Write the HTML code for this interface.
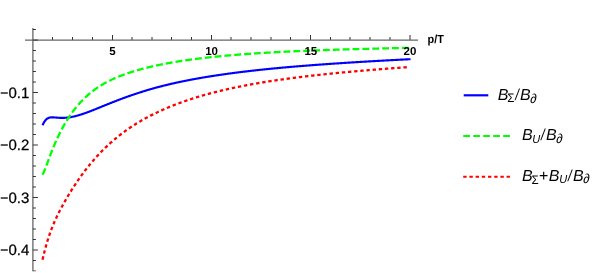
<!DOCTYPE html>
<html><head><meta charset="utf-8"><title>plot</title>
<style>
html,body{margin:0;padding:0;background:#fff;}
svg{display:block;font-family:"Liberation Sans",sans-serif;fill:#000;text-rendering:geometricPrecision;will-change:transform;}
</style></head>
<body>
<svg width="600" height="273" viewBox="0 0 600 273">
<rect x="0" y="0" width="600" height="273" fill="#ffffff"/>
<line x1="25" y1="40.05" x2="418" y2="40.05" stroke="#666666" stroke-width="1.3"/>
<line x1="32.9" y1="28" x2="32.9" y2="271.3" stroke="#666666" stroke-width="1.3"/>
<path d="M52.50,39.9v-2.9 M72.50,39.9v-2.9 M92.50,39.9v-2.9 M112.50,39.9v-4.9 M132.00,39.9v-2.9 M152.00,39.9v-2.9 M171.50,39.9v-2.9 M191.50,39.9v-2.9 M211.50,39.9v-4.9 M231.00,39.9v-2.9 M251.00,39.9v-2.9 M271.00,39.9v-2.9 M290.50,39.9v-2.9 M310.50,39.9v-4.9 M330.50,39.9v-2.9 M350.00,39.9v-2.9 M370.00,39.9v-2.9 M390.00,39.9v-2.9 M410.00,39.9v-4.9 M32.9,260.50h3 M32.9,250.00h5 M32.9,239.50h3 M32.9,229.00h3 M32.9,218.50h3 M32.9,208.00h3 M32.9,197.50h5 M32.9,187.00h3 M32.9,176.50h3 M32.9,166.00h3 M32.9,155.50h3 M32.9,145.00h5 M32.9,134.50h3 M32.9,124.00h3 M32.9,113.50h3 M32.9,103.00h3 M32.9,92.50h5 M32.9,82.00h3 M32.9,71.50h3 M32.9,61.00h3 M32.9,50.50h3 M32.9,40.05h5 M32.9,29.50h3" stroke="#333333" stroke-width="1" fill="none"/>
<path d="M32.9,270.8h3" stroke="#666666" stroke-width="1" fill="none"/>
<path d="M42.50,125.25 L43.00,124.21 L43.50,123.25 L44.00,122.37 L44.50,121.56 L45.00,120.84 L45.50,120.21 L46.00,119.65 L46.50,119.17 L47.00,118.77 L47.50,118.44 L48.00,118.17 L48.50,117.95 L49.00,117.78 L49.50,117.64 L50.00,117.54 L50.50,117.47 L51.00,117.42 L51.50,117.39 L52.00,117.37 L52.50,117.37 L53.00,117.38 L53.50,117.40 L54.00,117.42 L54.50,117.45 L55.00,117.49 L55.50,117.53 L56.00,117.57 L56.50,117.61 L57.00,117.65 L57.50,117.69 L58.00,117.73 L58.50,117.77 L59.00,117.80 L59.50,117.83 L60.00,117.86 L60.50,117.88 L61.00,117.89 L61.50,117.90 L62.00,117.90 L62.50,117.90 L63.00,117.89 L63.50,117.88 L64.00,117.86 L64.50,117.83 L65.00,117.80 L65.50,117.77 L66.00,117.73 L66.50,117.69 L67.00,117.64 L67.50,117.58 L68.00,117.52 L68.50,117.46 L69.00,117.39 L69.50,117.32 L70.00,117.24 L70.50,117.16 L71.00,117.07 L71.50,116.98 L72.00,116.88 L72.50,116.78 L73.00,116.68 L73.50,116.57 L74.00,116.45 L74.50,116.34 L75.00,116.22 L75.50,116.09 L76.00,115.97 L76.50,115.83 L77.00,115.70 L77.50,115.56 L78.00,115.42 L78.50,115.28 L79.00,115.13 L79.50,114.98 L80.00,114.83 L80.50,114.67 L81.00,114.52 L81.50,114.36 L82.00,114.19 L82.50,114.03 L83.00,113.86 L83.50,113.69 L84.00,113.52 L84.50,113.35 L85.00,113.18 L85.50,113.00 L86.00,112.82 L86.50,112.64 L87.00,112.46 L87.50,112.28 L88.00,112.09 L88.50,111.91 L89.00,111.72 L89.50,111.53 L90.00,111.34 L90.50,111.15 L91.00,110.96 L91.50,110.76 L92.00,110.57 L92.50,110.37 L93.00,110.17 L93.50,109.97 L94.00,109.78 L94.50,109.58 L95.00,109.37 L95.50,109.17 L96.00,108.97 L96.50,108.77 L97.00,108.56 L97.50,108.36 L98.00,108.16 L98.50,107.95 L99.00,107.75 L99.50,107.54 L100.00,107.33 L100.50,107.13 L101.00,106.92 L101.50,106.72 L102.00,106.51 L102.50,106.31 L103.00,106.10 L103.50,105.90 L104.00,105.70 L104.50,105.49 L105.00,105.29 L105.50,105.09 L106.00,104.89 L106.50,104.68 L107.00,104.48 L107.50,104.28 L108.00,104.08 L108.50,103.88 L109.00,103.68 L109.50,103.49 L110.00,103.29 L110.50,103.09 L111.00,102.89 L111.50,102.70 L112.00,102.50 L112.50,102.30 L113.00,102.11 L113.50,101.91 L114.00,101.72 L114.50,101.52 L115.00,101.33 L115.50,101.14 L116.00,100.94 L116.50,100.75 L117.00,100.56 L117.50,100.37 L118.00,100.18 L118.50,99.98 L119.00,99.79 L119.50,99.60 L120.00,99.41 L120.50,99.22 L121.00,99.04 L121.50,98.85 L122.00,98.66 L122.50,98.48 L123.00,98.29 L123.50,98.11 L124.00,97.92 L124.50,97.74 L125.00,97.56 L125.50,97.38 L126.00,97.20 L126.50,97.02 L127.00,96.84 L127.50,96.66 L128.00,96.49 L128.50,96.31 L129.00,96.14 L129.50,95.96 L130.00,95.79 L130.50,95.62 L131.00,95.44 L131.50,95.27 L132.00,95.10 L132.50,94.93 L133.00,94.76 L133.50,94.59 L134.00,94.42 L134.50,94.25 L135.00,94.08 L135.50,93.92 L136.00,93.75 L136.50,93.58 L137.00,93.42 L137.50,93.25 L138.00,93.09 L138.50,92.92 L139.00,92.76 L139.50,92.60 L140.00,92.43 L140.50,92.27 L141.00,92.11 L141.50,91.95 L142.00,91.79 L142.50,91.63 L143.00,91.47 L143.50,91.31 L144.00,91.16 L144.50,91.00 L145.00,90.85 L145.50,90.69 L146.00,90.54 L146.50,90.39 L147.00,90.24 L147.50,90.09 L148.00,89.94 L148.50,89.79 L149.00,89.64 L149.50,89.50 L150.00,89.35 L150.50,89.21 L151.00,89.06 L151.50,88.92 L152.00,88.78 L152.50,88.63 L153.00,88.49 L153.50,88.35 L154.00,88.21 L154.50,88.07 L155.00,87.94 L155.50,87.80 L156.00,87.66 L156.50,87.53 L157.00,87.39 L157.50,87.26 L158.00,87.13 L158.50,86.99 L159.00,86.86 L159.50,86.73 L160.00,86.60 L160.50,86.47 L161.00,86.34 L161.50,86.21 L162.00,86.09 L162.50,85.96 L163.00,85.83 L163.50,85.71 L164.00,85.58 L164.50,85.46 L165.00,85.34 L165.50,85.21 L166.00,85.09 L166.50,84.97 L167.00,84.85 L167.50,84.73 L168.00,84.61 L168.50,84.49 L169.00,84.37 L169.50,84.25 L170.00,84.14 L170.50,84.02 L171.00,83.90 L171.50,83.79 L172.00,83.67 L172.50,83.56 L173.00,83.45 L173.50,83.33 L174.00,83.22 L174.50,83.11 L175.00,83.00 L175.50,82.89 L176.00,82.78 L176.50,82.67 L177.00,82.56 L177.50,82.45 L178.00,82.34 L178.50,82.23 L179.00,82.13 L179.50,82.02 L180.00,81.91 L180.50,81.81 L181.00,81.70 L181.50,81.60 L182.00,81.50 L182.50,81.39 L183.00,81.29 L183.50,81.19 L184.00,81.09 L184.50,80.99 L185.00,80.88 L185.50,80.78 L186.00,80.68 L186.50,80.59 L187.00,80.49 L187.50,80.39 L188.00,80.29 L188.50,80.19 L189.00,80.10 L189.50,80.00 L190.00,79.90 L190.50,79.81 L191.00,79.71 L191.50,79.62 L192.00,79.52 L192.50,79.43 L193.00,79.34 L193.50,79.24 L194.00,79.15 L194.50,79.06 L195.00,78.97 L195.50,78.88 L196.00,78.79 L196.50,78.70 L197.00,78.61 L197.50,78.52 L198.00,78.43 L198.50,78.34 L199.00,78.25 L199.50,78.16 L200.00,78.07 L200.50,77.99 L201.00,77.90 L201.50,77.81 L202.00,77.73 L202.50,77.64 L203.00,77.56 L203.50,77.47 L204.00,77.39 L204.50,77.31 L205.00,77.22 L205.50,77.14 L206.00,77.06 L206.50,76.97 L207.00,76.89 L207.50,76.81 L208.00,76.73 L208.50,76.65 L209.00,76.57 L209.50,76.48 L210.00,76.40 L210.50,76.32 L211.00,76.25 L211.50,76.17 L212.00,76.09 L212.50,76.01 L213.00,75.93 L213.50,75.85 L214.00,75.78 L214.50,75.70 L215.00,75.62 L215.50,75.55 L216.00,75.47 L216.50,75.39 L217.00,75.32 L217.50,75.24 L218.00,75.17 L218.50,75.09 L219.00,75.02 L219.50,74.95 L220.00,74.87 L220.50,74.80 L221.00,74.73 L221.50,74.65 L222.00,74.58 L222.50,74.51 L223.00,74.44 L223.50,74.37 L224.00,74.30 L224.50,74.22 L225.00,74.15 L225.50,74.08 L226.00,74.01 L226.50,73.94 L227.00,73.88 L227.50,73.81 L228.00,73.74 L228.50,73.67 L229.00,73.60 L229.50,73.53 L230.00,73.46 L230.50,73.40 L231.00,73.33 L231.50,73.26 L232.00,73.20 L232.50,73.13 L233.00,73.06 L233.50,73.00 L234.00,72.93 L234.50,72.87 L235.00,72.80 L235.50,72.74 L236.00,72.67 L236.50,72.61 L237.00,72.55 L237.50,72.48 L238.00,72.42 L238.50,72.35 L239.00,72.29 L239.50,72.23 L240.00,72.17 L240.50,72.10 L241.00,72.04 L241.50,71.98 L242.00,71.92 L242.50,71.86 L243.00,71.80 L243.50,71.74 L244.00,71.68 L244.50,71.62 L245.00,71.56 L245.50,71.50 L246.00,71.44 L246.50,71.38 L247.00,71.32 L247.50,71.26 L248.00,71.20 L248.50,71.14 L249.00,71.08 L249.50,71.03 L250.00,70.97 L250.50,70.91 L251.00,70.85 L251.50,70.80 L252.00,70.74 L252.50,70.68 L253.00,70.63 L253.50,70.57 L254.00,70.51 L254.50,70.46 L255.00,70.40 L255.50,70.35 L256.00,70.29 L256.50,70.24 L257.00,70.18 L257.50,70.13 L258.00,70.07 L258.50,70.02 L259.00,69.96 L259.50,69.91 L260.00,69.86 L260.50,69.80 L261.00,69.75 L261.50,69.70 L262.00,69.65 L262.50,69.59 L263.00,69.54 L263.50,69.49 L264.00,69.44 L264.50,69.39 L265.00,69.33 L265.50,69.28 L266.00,69.23 L266.50,69.18 L267.00,69.13 L267.50,69.08 L268.00,69.03 L268.50,68.98 L269.00,68.93 L269.50,68.88 L270.00,68.83 L270.50,68.78 L271.00,68.73 L271.50,68.68 L272.00,68.63 L272.50,68.58 L273.00,68.53 L273.50,68.49 L274.00,68.44 L274.50,68.39 L275.00,68.34 L275.50,68.29 L276.00,68.25 L276.50,68.20 L277.00,68.15 L277.50,68.10 L278.00,68.06 L278.50,68.01 L279.00,67.96 L279.50,67.92 L280.00,67.87 L280.50,67.82 L281.00,67.78 L281.50,67.73 L282.00,67.69 L282.50,67.64 L283.00,67.60 L283.50,67.55 L284.00,67.50 L284.50,67.46 L285.00,67.41 L285.50,67.37 L286.00,67.33 L286.50,67.28 L287.00,67.24 L287.50,67.19 L288.00,67.15 L288.50,67.11 L289.00,67.06 L289.50,67.02 L290.00,66.97 L290.50,66.93 L291.00,66.89 L291.50,66.85 L292.00,66.80 L292.50,66.76 L293.00,66.72 L293.50,66.68 L294.00,66.63 L294.50,66.59 L295.00,66.55 L295.50,66.51 L296.00,66.47 L296.50,66.42 L297.00,66.38 L297.50,66.34 L298.00,66.30 L298.50,66.26 L299.00,66.22 L299.50,66.18 L300.00,66.14 L300.50,66.10 L301.00,66.06 L301.50,66.01 L302.00,65.97 L302.50,65.93 L303.00,65.89 L303.50,65.85 L304.00,65.81 L304.50,65.78 L305.00,65.74 L305.50,65.70 L306.00,65.66 L306.50,65.62 L307.00,65.58 L307.50,65.54 L308.00,65.50 L308.50,65.46 L309.00,65.42 L309.50,65.38 L310.00,65.35 L310.50,65.31 L311.00,65.27 L311.50,65.23 L312.00,65.19 L312.50,65.16 L313.00,65.12 L313.50,65.08 L314.00,65.04 L314.50,65.01 L315.00,64.97 L315.50,64.93 L316.00,64.89 L316.50,64.86 L317.00,64.82 L317.50,64.78 L318.00,64.75 L318.50,64.71 L319.00,64.67 L319.50,64.64 L320.00,64.60 L320.50,64.56 L321.00,64.53 L321.50,64.49 L322.00,64.45 L322.50,64.42 L323.00,64.38 L323.50,64.35 L324.00,64.31 L324.50,64.27 L325.00,64.24 L325.50,64.20 L326.00,64.17 L326.50,64.13 L327.00,64.10 L327.50,64.06 L328.00,64.03 L328.50,63.99 L329.00,63.96 L329.50,63.92 L330.00,63.89 L330.50,63.85 L331.00,63.82 L331.50,63.79 L332.00,63.75 L332.50,63.72 L333.00,63.68 L333.50,63.65 L334.00,63.61 L334.50,63.58 L335.00,63.55 L335.50,63.51 L336.00,63.48 L336.50,63.45 L337.00,63.41 L337.50,63.38 L338.00,63.35 L338.50,63.31 L339.00,63.28 L339.50,63.25 L340.00,63.21 L340.50,63.18 L341.00,63.15 L341.50,63.11 L342.00,63.08 L342.50,63.05 L343.00,63.02 L343.50,62.98 L344.00,62.95 L344.50,62.92 L345.00,62.89 L345.50,62.85 L346.00,62.82 L346.50,62.79 L347.00,62.76 L347.50,62.73 L348.00,62.69 L348.50,62.66 L349.00,62.63 L349.50,62.60 L350.00,62.57 L350.50,62.54 L351.00,62.50 L351.50,62.47 L352.00,62.44 L352.50,62.41 L353.00,62.38 L353.50,62.35 L354.00,62.32 L354.50,62.29 L355.00,62.25 L355.50,62.22 L356.00,62.19 L356.50,62.16 L357.00,62.13 L357.50,62.10 L358.00,62.07 L358.50,62.04 L359.00,62.01 L359.50,61.98 L360.00,61.95 L360.50,61.92 L361.00,61.89 L361.50,61.86 L362.00,61.83 L362.50,61.80 L363.00,61.77 L363.50,61.74 L364.00,61.71 L364.50,61.68 L365.00,61.65 L365.50,61.62 L366.00,61.59 L366.50,61.56 L367.00,61.53 L367.50,61.50 L368.00,61.47 L368.50,61.44 L369.00,61.42 L369.50,61.39 L370.00,61.36 L370.50,61.33 L371.00,61.30 L371.50,61.27 L372.00,61.24 L372.50,61.21 L373.00,61.18 L373.50,61.16 L374.00,61.13 L374.50,61.10 L375.00,61.07 L375.50,61.04 L376.00,61.01 L376.50,60.98 L377.00,60.96 L377.50,60.93 L378.00,60.90 L378.50,60.87 L379.00,60.84 L379.50,60.82 L380.00,60.79 L380.50,60.76 L381.00,60.73 L381.50,60.70 L382.00,60.68 L382.50,60.65 L383.00,60.62 L383.50,60.59 L384.00,60.57 L384.50,60.54 L385.00,60.51 L385.50,60.48 L386.00,60.46 L386.50,60.43 L387.00,60.40 L387.50,60.38 L388.00,60.35 L388.50,60.32 L389.00,60.30 L389.50,60.27 L390.00,60.24 L390.50,60.21 L391.00,60.19 L391.50,60.16 L392.00,60.13 L392.50,60.11 L393.00,60.08 L393.50,60.05 L394.00,60.03 L394.50,60.00 L395.00,59.98 L395.50,59.95 L396.00,59.92 L396.50,59.90 L397.00,59.87 L397.50,59.84 L398.00,59.82 L398.50,59.79 L399.00,59.77 L399.50,59.74 L400.00,59.71 L400.50,59.69 L401.00,59.66 L401.50,59.64 L402.00,59.61 L402.50,59.58 L403.00,59.56 L403.50,59.53 L404.00,59.51 L404.50,59.48 L405.00,59.46 L405.50,59.43 L406.00,59.41 L406.50,59.38 L407.00,59.35 L407.50,59.33 L408.00,59.30 L408.50,59.28 L409.00,59.25 L409.50,59.23 L410.00,59.20 L410.50,59.18" stroke="#0000ff" stroke-width="2.15" fill="none" stroke-linejoin="round"/>
<path d="M42.50,174.75 L43.00,173.74 L43.50,172.66 L44.00,171.53 L44.50,170.36 L45.00,169.14 L45.50,167.90 L46.00,166.62 L46.50,165.33 L47.00,164.01 L47.50,162.69 L48.00,161.36 L48.50,160.02 L49.00,158.68 L49.50,157.34 L50.00,156.01 L50.50,154.68 L51.00,153.37 L51.50,152.06 L52.00,150.77 L52.50,149.50 L53.00,148.25 L53.50,147.01 L54.00,145.80 L54.50,144.60 L55.00,143.43 L55.50,142.28 L56.00,141.14 L56.50,140.02 L57.00,138.92 L57.50,137.84 L58.00,136.78 L58.50,135.73 L59.00,134.70 L59.50,133.68 L60.00,132.68 L60.50,131.70 L61.00,130.73 L61.50,129.78 L62.00,128.84 L62.50,127.92 L63.00,127.01 L63.50,126.11 L64.00,125.23 L64.50,124.36 L65.00,123.50 L65.50,122.66 L66.00,121.83 L66.50,121.01 L67.00,120.20 L67.50,119.41 L68.00,118.62 L68.50,117.85 L69.00,117.09 L69.50,116.34 L70.00,115.60 L70.50,114.87 L71.00,114.16 L71.50,113.45 L72.00,112.75 L72.50,112.07 L73.00,111.39 L73.50,110.72 L74.00,110.06 L74.50,109.41 L75.00,108.77 L75.50,108.14 L76.00,107.52 L76.50,106.91 L77.00,106.30 L77.50,105.71 L78.00,105.12 L78.50,104.54 L79.00,103.97 L79.50,103.41 L80.00,102.85 L80.50,102.31 L81.00,101.77 L81.50,101.24 L82.00,100.71 L82.50,100.19 L83.00,99.69 L83.50,99.18 L84.00,98.69 L84.50,98.20 L85.00,97.72 L85.50,97.24 L86.00,96.77 L86.50,96.31 L87.00,95.86 L87.50,95.41 L88.00,94.97 L88.50,94.53 L89.00,94.10 L89.50,93.68 L90.00,93.26 L90.50,92.84 L91.00,92.44 L91.50,92.04 L92.00,91.64 L92.50,91.25 L93.00,90.87 L93.50,90.49 L94.00,90.12 L94.50,89.75 L95.00,89.39 L95.50,89.03 L96.00,88.68 L96.50,88.33 L97.00,87.99 L97.50,87.65 L98.00,87.31 L98.50,86.98 L99.00,86.66 L99.50,86.34 L100.00,86.02 L100.50,85.71 L101.00,85.40 L101.50,85.10 L102.00,84.80 L102.50,84.50 L103.00,84.21 L103.50,83.92 L104.00,83.63 L104.50,83.35 L105.00,83.07 L105.50,82.80 L106.00,82.53 L106.50,82.26 L107.00,82.00 L107.50,81.73 L108.00,81.48 L108.50,81.22 L109.00,80.97 L109.50,80.72 L110.00,80.47 L110.50,80.23 L111.00,79.99 L111.50,79.75 L112.00,79.51 L112.50,79.28 L113.00,79.05 L113.50,78.82 L114.00,78.60 L114.50,78.37 L115.00,78.15 L115.50,77.94 L116.00,77.72 L116.50,77.51 L117.00,77.30 L117.50,77.09 L118.00,76.88 L118.50,76.68 L119.00,76.47 L119.50,76.27 L120.00,76.08 L120.50,75.88 L121.00,75.69 L121.50,75.49 L122.00,75.30 L122.50,75.12 L123.00,74.93 L123.50,74.74 L124.00,74.56 L124.50,74.38 L125.00,74.20 L125.50,74.02 L126.00,73.85 L126.50,73.67 L127.00,73.50 L127.50,73.33 L128.00,73.16 L128.50,72.99 L129.00,72.83 L129.50,72.66 L130.00,72.50 L130.50,72.34 L131.00,72.18 L131.50,72.02 L132.00,71.86 L132.50,71.70 L133.00,71.55 L133.50,71.39 L134.00,71.24 L134.50,71.09 L135.00,70.94 L135.50,70.79 L136.00,70.65 L136.50,70.50 L137.00,70.35 L137.50,70.21 L138.00,70.07 L138.50,69.93 L139.00,69.79 L139.50,69.65 L140.00,69.51 L140.50,69.37 L141.00,69.24 L141.50,69.10 L142.00,68.97 L142.50,68.84 L143.00,68.70 L143.50,68.57 L144.00,68.44 L144.50,68.32 L145.00,68.19 L145.50,68.06 L146.00,67.94 L146.50,67.81 L147.00,67.69 L147.50,67.56 L148.00,67.44 L148.50,67.32 L149.00,67.20 L149.50,67.08 L150.00,66.96 L150.50,66.84 L151.00,66.72 L151.50,66.61 L152.00,66.49 L152.50,66.38 L153.00,66.26 L153.50,66.15 L154.00,66.04 L154.50,65.93 L155.00,65.82 L155.50,65.71 L156.00,65.60 L156.50,65.49 L157.00,65.38 L157.50,65.28 L158.00,65.17 L158.50,65.06 L159.00,64.96 L159.50,64.86 L160.00,64.75 L160.50,64.65 L161.00,64.55 L161.50,64.45 L162.00,64.35 L162.50,64.25 L163.00,64.15 L163.50,64.05 L164.00,63.95 L164.50,63.86 L165.00,63.76 L165.50,63.67 L166.00,63.57 L166.50,63.48 L167.00,63.38 L167.50,63.29 L168.00,63.20 L168.50,63.11 L169.00,63.02 L169.50,62.93 L170.00,62.84 L170.50,62.75 L171.00,62.66 L171.50,62.57 L172.00,62.48 L172.50,62.40 L173.00,62.31 L173.50,62.23 L174.00,62.14 L174.50,62.06 L175.00,61.97 L175.50,61.89 L176.00,61.81 L176.50,61.73 L177.00,61.64 L177.50,61.56 L178.00,61.48 L178.50,61.40 L179.00,61.33 L179.50,61.25 L180.00,61.17 L180.50,61.09 L181.00,61.01 L181.50,60.94 L182.00,60.86 L182.50,60.79 L183.00,60.71 L183.50,60.64 L184.00,60.56 L184.50,60.49 L185.00,60.42 L185.50,60.34 L186.00,60.27 L186.50,60.20 L187.00,60.13 L187.50,60.06 L188.00,59.99 L188.50,59.92 L189.00,59.85 L189.50,59.78 L190.00,59.71 L190.50,59.64 L191.00,59.57 L191.50,59.51 L192.00,59.44 L192.50,59.37 L193.00,59.31 L193.50,59.24 L194.00,59.17 L194.50,59.11 L195.00,59.04 L195.50,58.98 L196.00,58.92 L196.50,58.85 L197.00,58.79 L197.50,58.73 L198.00,58.66 L198.50,58.60 L199.00,58.54 L199.50,58.48 L200.00,58.42 L200.50,58.36 L201.00,58.30 L201.50,58.24 L202.00,58.18 L202.50,58.12 L203.00,58.06 L203.50,58.00 L204.00,57.94 L204.50,57.89 L205.00,57.83 L205.50,57.77 L206.00,57.71 L206.50,57.66 L207.00,57.60 L207.50,57.55 L208.00,57.49 L208.50,57.43 L209.00,57.38 L209.50,57.33 L210.00,57.27 L210.50,57.22 L211.00,57.16 L211.50,57.11 L212.00,57.06 L212.50,57.00 L213.00,56.95 L213.50,56.90 L214.00,56.85 L214.50,56.80 L215.00,56.75 L215.50,56.69 L216.00,56.64 L216.50,56.59 L217.00,56.54 L217.50,56.49 L218.00,56.44 L218.50,56.39 L219.00,56.34 L219.50,56.30 L220.00,56.25 L220.50,56.20 L221.00,56.15 L221.50,56.10 L222.00,56.06 L222.50,56.01 L223.00,55.96 L223.50,55.92 L224.00,55.87 L224.50,55.82 L225.00,55.78 L225.50,55.73 L226.00,55.69 L226.50,55.64 L227.00,55.60 L227.50,55.55 L228.00,55.51 L228.50,55.46 L229.00,55.42 L229.50,55.38 L230.00,55.33 L230.50,55.29 L231.00,55.25 L231.50,55.20 L232.00,55.16 L232.50,55.12 L233.00,55.08 L233.50,55.03 L234.00,54.99 L234.50,54.95 L235.00,54.91 L235.50,54.87 L236.00,54.83 L236.50,54.79 L237.00,54.75 L237.50,54.71 L238.00,54.67 L238.50,54.63 L239.00,54.59 L239.50,54.55 L240.00,54.51 L240.50,54.47 L241.00,54.43 L241.50,54.40 L242.00,54.36 L242.50,54.32 L243.00,54.28 L243.50,54.24 L244.00,54.21 L244.50,54.17 L245.00,54.13 L245.50,54.10 L246.00,54.06 L246.50,54.02 L247.00,53.99 L247.50,53.95 L248.00,53.91 L248.50,53.88 L249.00,53.84 L249.50,53.81 L250.00,53.77 L250.50,53.74 L251.00,53.70 L251.50,53.67 L252.00,53.63 L252.50,53.60 L253.00,53.57 L253.50,53.53 L254.00,53.50 L254.50,53.47 L255.00,53.43 L255.50,53.40 L256.00,53.37 L256.50,53.33 L257.00,53.30 L257.50,53.27 L258.00,53.24 L258.50,53.20 L259.00,53.17 L259.50,53.14 L260.00,53.11 L260.50,53.08 L261.00,53.05 L261.50,53.01 L262.00,52.98 L262.50,52.95 L263.00,52.92 L263.50,52.89 L264.00,52.86 L264.50,52.83 L265.00,52.80 L265.50,52.77 L266.00,52.74 L266.50,52.71 L267.00,52.68 L267.50,52.65 L268.00,52.62 L268.50,52.59 L269.00,52.56 L269.50,52.54 L270.00,52.51 L270.50,52.48 L271.00,52.45 L271.50,52.42 L272.00,52.39 L272.50,52.37 L273.00,52.34 L273.50,52.31 L274.00,52.28 L274.50,52.26 L275.00,52.23 L275.50,52.20 L276.00,52.17 L276.50,52.15 L277.00,52.12 L277.50,52.09 L278.00,52.07 L278.50,52.04 L279.00,52.02 L279.50,51.99 L280.00,51.96 L280.50,51.94 L281.00,51.91 L281.50,51.89 L282.00,51.86 L282.50,51.84 L283.00,51.81 L283.50,51.79 L284.00,51.76 L284.50,51.74 L285.00,51.71 L285.50,51.69 L286.00,51.66 L286.50,51.64 L287.00,51.61 L287.50,51.59 L288.00,51.57 L288.50,51.54 L289.00,51.52 L289.50,51.50 L290.00,51.47 L290.50,51.45 L291.00,51.43 L291.50,51.40 L292.00,51.38 L292.50,51.36 L293.00,51.33 L293.50,51.31 L294.00,51.29 L294.50,51.27 L295.00,51.24 L295.50,51.22 L296.00,51.20 L296.50,51.18 L297.00,51.16 L297.50,51.13 L298.00,51.11 L298.50,51.09 L299.00,51.07 L299.50,51.05 L300.00,51.03 L300.50,51.00 L301.00,50.98 L301.50,50.96 L302.00,50.94 L302.50,50.92 L303.00,50.90 L303.50,50.88 L304.00,50.86 L304.50,50.84 L305.00,50.82 L305.50,50.80 L306.00,50.78 L306.50,50.76 L307.00,50.74 L307.50,50.72 L308.00,50.70 L308.50,50.68 L309.00,50.66 L309.50,50.64 L310.00,50.62 L310.50,50.60 L311.00,50.58 L311.50,50.56 L312.00,50.54 L312.50,50.52 L313.00,50.50 L313.50,50.48 L314.00,50.47 L314.50,50.45 L315.00,50.43 L315.50,50.41 L316.00,50.39 L316.50,50.37 L317.00,50.35 L317.50,50.34 L318.00,50.32 L318.50,50.30 L319.00,50.28 L319.50,50.26 L320.00,50.25 L320.50,50.23 L321.00,50.21 L321.50,50.19 L322.00,50.17 L322.50,50.16 L323.00,50.14 L323.50,50.12 L324.00,50.10 L324.50,50.09 L325.00,50.07 L325.50,50.05 L326.00,50.04 L326.50,50.02 L327.00,50.00 L327.50,49.98 L328.00,49.97 L328.50,49.95 L329.00,49.93 L329.50,49.92 L330.00,49.90 L330.50,49.88 L331.00,49.87 L331.50,49.85 L332.00,49.83 L332.50,49.82 L333.00,49.80 L333.50,49.79 L334.00,49.77 L334.50,49.75 L335.00,49.74 L335.50,49.72 L336.00,49.71 L336.50,49.69 L337.00,49.67 L337.50,49.66 L338.00,49.64 L338.50,49.63 L339.00,49.61 L339.50,49.60 L340.00,49.58 L340.50,49.57 L341.00,49.55 L341.50,49.54 L342.00,49.52 L342.50,49.50 L343.00,49.49 L343.50,49.47 L344.00,49.46 L344.50,49.44 L345.00,49.43 L345.50,49.41 L346.00,49.40 L346.50,49.38 L347.00,49.37 L347.50,49.36 L348.00,49.34 L348.50,49.33 L349.00,49.31 L349.50,49.30 L350.00,49.28 L350.50,49.27 L351.00,49.25 L351.50,49.24 L352.00,49.23 L352.50,49.21 L353.00,49.20 L353.50,49.18 L354.00,49.17 L354.50,49.15 L355.00,49.14 L355.50,49.13 L356.00,49.11 L356.50,49.10 L357.00,49.08 L357.50,49.07 L358.00,49.06 L358.50,49.04 L359.00,49.03 L359.50,49.02 L360.00,49.00 L360.50,48.99 L361.00,48.97 L361.50,48.96 L362.00,48.95 L362.50,48.93 L363.00,48.92 L363.50,48.91 L364.00,48.89 L364.50,48.88 L365.00,48.87 L365.50,48.85 L366.00,48.84 L366.50,48.83 L367.00,48.81 L367.50,48.80 L368.00,48.79 L368.50,48.78 L369.00,48.76 L369.50,48.75 L370.00,48.74 L370.50,48.72 L371.00,48.71 L371.50,48.70 L372.00,48.68 L372.50,48.67 L373.00,48.66 L373.50,48.65 L374.00,48.63 L374.50,48.62 L375.00,48.61 L375.50,48.60 L376.00,48.58 L376.50,48.57 L377.00,48.56 L377.50,48.54 L378.00,48.53 L378.50,48.52 L379.00,48.51 L379.50,48.49 L380.00,48.48 L380.50,48.47 L381.00,48.46 L381.50,48.45 L382.00,48.43 L382.50,48.42 L383.00,48.41 L383.50,48.40 L384.00,48.38 L384.50,48.37 L385.00,48.36 L385.50,48.35 L386.00,48.33 L386.50,48.32 L387.00,48.31 L387.50,48.30 L388.00,48.29 L388.50,48.27 L389.00,48.26 L389.50,48.25 L390.00,48.24 L390.50,48.23 L391.00,48.21 L391.50,48.20 L392.00,48.19 L392.50,48.18 L393.00,48.17 L393.50,48.15 L394.00,48.14 L394.50,48.13 L395.00,48.12 L395.50,48.11 L396.00,48.10 L396.50,48.08 L397.00,48.07 L397.50,48.06 L398.00,48.05 L398.50,48.04 L399.00,48.02 L399.50,48.01 L400.00,48.00 L400.50,47.99 L401.00,47.98 L401.50,47.97 L402.00,47.96 L402.50,47.94 L403.00,47.93 L403.50,47.92 L404.00,47.91 L404.50,47.90 L405.00,47.89 L405.50,47.87 L406.00,47.86 L406.50,47.85 L407.00,47.84 L407.50,47.83 L408.00,47.82 L408.50,47.81 L409.00,47.80 L409.50,47.78 L410.00,47.77 L410.50,47.76" stroke="#00ff00" stroke-width="2.3" fill="none" stroke-dasharray="6.9 2.97" stroke-linejoin="round"/>
<path d="M42.50,259.65 L43.00,257.59 L43.50,255.56 L44.00,253.55 L44.50,251.58 L45.00,249.64 L45.50,247.76 L46.00,245.93 L46.50,244.17 L47.00,242.46 L47.50,240.81 L48.00,239.21 L48.50,237.65 L49.00,236.14 L49.50,234.68 L50.00,233.25 L50.50,231.86 L51.00,230.50 L51.50,229.17 L52.00,227.87 L52.50,226.60 L53.00,225.36 L53.50,224.15 L54.00,222.96 L54.50,221.80 L55.00,220.67 L55.50,219.56 L56.00,218.47 L56.50,217.40 L57.00,216.34 L57.50,215.31 L58.00,214.28 L58.50,213.28 L59.00,212.28 L59.50,211.30 L60.00,210.33 L60.50,209.36 L61.00,208.41 L61.50,207.47 L62.00,206.53 L62.50,205.60 L63.00,204.69 L63.50,203.78 L64.00,202.88 L64.50,201.98 L65.00,201.10 L65.50,200.22 L66.00,199.35 L66.50,198.49 L67.00,197.63 L67.50,196.78 L68.00,195.94 L68.50,195.10 L69.00,194.27 L69.50,193.45 L70.00,192.63 L70.50,191.82 L71.00,191.02 L71.50,190.22 L72.00,189.42 L72.50,188.64 L73.00,187.85 L73.50,187.08 L74.00,186.31 L74.50,185.54 L75.00,184.78 L75.50,184.02 L76.00,183.27 L76.50,182.53 L77.00,181.79 L77.50,181.06 L78.00,180.33 L78.50,179.61 L79.00,178.89 L79.50,178.17 L80.00,177.47 L80.50,176.76 L81.00,176.07 L81.50,175.37 L82.00,174.69 L82.50,174.00 L83.00,173.33 L83.50,172.66 L84.00,171.99 L84.50,171.33 L85.00,170.67 L85.50,170.02 L86.00,169.37 L86.50,168.73 L87.00,168.09 L87.50,167.45 L88.00,166.83 L88.50,166.20 L89.00,165.58 L89.50,164.97 L90.00,164.36 L90.50,163.75 L91.00,163.15 L91.50,162.56 L92.00,161.96 L92.50,161.38 L93.00,160.79 L93.50,160.21 L94.00,159.64 L94.50,159.07 L95.00,158.51 L95.50,157.94 L96.00,157.39 L96.50,156.83 L97.00,156.29 L97.50,155.74 L98.00,155.20 L98.50,154.67 L99.00,154.13 L99.50,153.60 L100.00,153.08 L100.50,152.56 L101.00,152.04 L101.50,151.53 L102.00,151.02 L102.50,150.52 L103.00,150.01 L103.50,149.52 L104.00,149.02 L104.50,148.53 L105.00,148.04 L105.50,147.56 L106.00,147.08 L106.50,146.60 L107.00,146.13 L107.50,145.66 L108.00,145.20 L108.50,144.73 L109.00,144.27 L109.50,143.82 L110.00,143.37 L110.50,142.92 L111.00,142.47 L111.50,142.03 L112.00,141.59 L112.50,141.15 L113.00,140.72 L113.50,140.29 L114.00,139.86 L114.50,139.44 L115.00,139.02 L115.50,138.60 L116.00,138.19 L116.50,137.78 L117.00,137.37 L117.50,136.96 L118.00,136.56 L118.50,136.16 L119.00,135.76 L119.50,135.37 L120.00,134.98 L120.50,134.59 L121.00,134.21 L121.50,133.82 L122.00,133.44 L122.50,133.07 L123.00,132.69 L123.50,132.32 L124.00,131.95 L124.50,131.59 L125.00,131.22 L125.50,130.86 L126.00,130.50 L126.50,130.15 L127.00,129.79 L127.50,129.44 L128.00,129.09 L128.50,128.75 L129.00,128.40 L129.50,128.06 L130.00,127.72 L130.50,127.39 L131.00,127.05 L131.50,126.72 L132.00,126.39 L132.50,126.06 L133.00,125.74 L133.50,125.41 L134.00,125.09 L134.50,124.78 L135.00,124.46 L135.50,124.15 L136.00,123.83 L136.50,123.52 L137.00,123.22 L137.50,122.91 L138.00,122.61 L138.50,122.31 L139.00,122.01 L139.50,121.71 L140.00,121.41 L140.50,121.12 L141.00,120.83 L141.50,120.54 L142.00,120.25 L142.50,119.97 L143.00,119.68 L143.50,119.40 L144.00,119.12 L144.50,118.84 L145.00,118.57 L145.50,118.29 L146.00,118.02 L146.50,117.75 L147.00,117.48 L147.50,117.21 L148.00,116.95 L148.50,116.68 L149.00,116.42 L149.50,116.16 L150.00,115.90 L150.50,115.64 L151.00,115.39 L151.50,115.13 L152.00,114.88 L152.50,114.63 L153.00,114.38 L153.50,114.13 L154.00,113.89 L154.50,113.64 L155.00,113.40 L155.50,113.16 L156.00,112.92 L156.50,112.68 L157.00,112.44 L157.50,112.21 L158.00,111.97 L158.50,111.74 L159.00,111.51 L159.50,111.28 L160.00,111.05 L160.50,110.82 L161.00,110.59 L161.50,110.37 L162.00,110.14 L162.50,109.92 L163.00,109.70 L163.50,109.48 L164.00,109.26 L164.50,109.04 L165.00,108.83 L165.50,108.61 L166.00,108.40 L166.50,108.18 L167.00,107.97 L167.50,107.76 L168.00,107.55 L168.50,107.34 L169.00,107.13 L169.50,106.93 L170.00,106.72 L170.50,106.52 L171.00,106.31 L171.50,106.11 L172.00,105.91 L172.50,105.71 L173.00,105.51 L173.50,105.32 L174.00,105.12 L174.50,104.92 L175.00,104.73 L175.50,104.54 L176.00,104.35 L176.50,104.16 L177.00,103.97 L177.50,103.78 L178.00,103.59 L178.50,103.40 L179.00,103.22 L179.50,103.03 L180.00,102.85 L180.50,102.67 L181.00,102.49 L181.50,102.31 L182.00,102.13 L182.50,101.95 L183.00,101.77 L183.50,101.59 L184.00,101.42 L184.50,101.24 L185.00,101.07 L185.50,100.90 L186.00,100.73 L186.50,100.56 L187.00,100.39 L187.50,100.22 L188.00,100.05 L188.50,99.88 L189.00,99.72 L189.50,99.55 L190.00,99.39 L190.50,99.22 L191.00,99.06 L191.50,98.90 L192.00,98.74 L192.50,98.58 L193.00,98.42 L193.50,98.26 L194.00,98.10 L194.50,97.94 L195.00,97.79 L195.50,97.63 L196.00,97.48 L196.50,97.33 L197.00,97.17 L197.50,97.02 L198.00,96.87 L198.50,96.72 L199.00,96.57 L199.50,96.42 L200.00,96.27 L200.50,96.13 L201.00,95.98 L201.50,95.83 L202.00,95.69 L202.50,95.54 L203.00,95.40 L203.50,95.26 L204.00,95.12 L204.50,94.97 L205.00,94.83 L205.50,94.69 L206.00,94.55 L206.50,94.42 L207.00,94.28 L207.50,94.14 L208.00,94.00 L208.50,93.87 L209.00,93.73 L209.50,93.60 L210.00,93.47 L210.50,93.33 L211.00,93.20 L211.50,93.07 L212.00,92.94 L212.50,92.81 L213.00,92.68 L213.50,92.55 L214.00,92.42 L214.50,92.29 L215.00,92.16 L215.50,92.04 L216.00,91.91 L216.50,91.78 L217.00,91.66 L217.50,91.54 L218.00,91.41 L218.50,91.29 L219.00,91.17 L219.50,91.04 L220.00,90.92 L220.50,90.80 L221.00,90.68 L221.50,90.56 L222.00,90.44 L222.50,90.33 L223.00,90.21 L223.50,90.09 L224.00,89.97 L224.50,89.86 L225.00,89.74 L225.50,89.63 L226.00,89.51 L226.50,89.40 L227.00,89.28 L227.50,89.17 L228.00,89.06 L228.50,88.95 L229.00,88.84 L229.50,88.73 L230.00,88.61 L230.50,88.50 L231.00,88.40 L231.50,88.29 L232.00,88.18 L232.50,88.07 L233.00,87.96 L233.50,87.86 L234.00,87.75 L234.50,87.64 L235.00,87.54 L235.50,87.43 L236.00,87.33 L236.50,87.23 L237.00,87.12 L237.50,87.02 L238.00,86.92 L238.50,86.82 L239.00,86.71 L239.50,86.61 L240.00,86.51 L240.50,86.41 L241.00,86.31 L241.50,86.21 L242.00,86.11 L242.50,86.02 L243.00,85.92 L243.50,85.82 L244.00,85.72 L244.50,85.63 L245.00,85.53 L245.50,85.44 L246.00,85.34 L246.50,85.25 L247.00,85.15 L247.50,85.06 L248.00,84.96 L248.50,84.87 L249.00,84.78 L249.50,84.68 L250.00,84.59 L250.50,84.50 L251.00,84.41 L251.50,84.32 L252.00,84.23 L252.50,84.14 L253.00,84.05 L253.50,83.96 L254.00,83.87 L254.50,83.78 L255.00,83.70 L255.50,83.61 L256.00,83.52 L256.50,83.43 L257.00,83.35 L257.50,83.26 L258.00,83.18 L258.50,83.09 L259.00,83.01 L259.50,82.92 L260.00,82.84 L260.50,82.75 L261.00,82.67 L261.50,82.59 L262.00,82.50 L262.50,82.42 L263.00,82.34 L263.50,82.26 L264.00,82.18 L264.50,82.09 L265.00,82.01 L265.50,81.93 L266.00,81.85 L266.50,81.77 L267.00,81.69 L267.50,81.61 L268.00,81.54 L268.50,81.46 L269.00,81.38 L269.50,81.30 L270.00,81.22 L270.50,81.15 L271.00,81.07 L271.50,80.99 L272.00,80.92 L272.50,80.84 L273.00,80.77 L273.50,80.69 L274.00,80.61 L274.50,80.54 L275.00,80.47 L275.50,80.39 L276.00,80.32 L276.50,80.24 L277.00,80.17 L277.50,80.10 L278.00,80.03 L278.50,79.95 L279.00,79.88 L279.50,79.81 L280.00,79.74 L280.50,79.67 L281.00,79.59 L281.50,79.52 L282.00,79.45 L282.50,79.38 L283.00,79.31 L283.50,79.24 L284.00,79.17 L284.50,79.10 L285.00,79.04 L285.50,78.97 L286.00,78.90 L286.50,78.83 L287.00,78.76 L287.50,78.69 L288.00,78.63 L288.50,78.56 L289.00,78.49 L289.50,78.43 L290.00,78.36 L290.50,78.29 L291.00,78.23 L291.50,78.16 L292.00,78.10 L292.50,78.03 L293.00,77.97 L293.50,77.90 L294.00,77.84 L294.50,77.77 L295.00,77.71 L295.50,77.64 L296.00,77.58 L296.50,77.52 L297.00,77.45 L297.50,77.39 L298.00,77.33 L298.50,77.27 L299.00,77.20 L299.50,77.14 L300.00,77.08 L300.50,77.02 L301.00,76.96 L301.50,76.90 L302.00,76.83 L302.50,76.77 L303.00,76.71 L303.50,76.65 L304.00,76.59 L304.50,76.53 L305.00,76.47 L305.50,76.41 L306.00,76.35 L306.50,76.29 L307.00,76.24 L307.50,76.18 L308.00,76.12 L308.50,76.06 L309.00,76.00 L309.50,75.94 L310.00,75.89 L310.50,75.83 L311.00,75.77 L311.50,75.71 L312.00,75.66 L312.50,75.60 L313.00,75.54 L313.50,75.49 L314.00,75.43 L314.50,75.37 L315.00,75.32 L315.50,75.26 L316.00,75.21 L316.50,75.15 L317.00,75.09 L317.50,75.04 L318.00,74.98 L318.50,74.93 L319.00,74.87 L319.50,74.82 L320.00,74.77 L320.50,74.71 L321.00,74.66 L321.50,74.60 L322.00,74.55 L322.50,74.50 L323.00,74.44 L323.50,74.39 L324.00,74.34 L324.50,74.28 L325.00,74.23 L325.50,74.18 L326.00,74.13 L326.50,74.07 L327.00,74.02 L327.50,73.97 L328.00,73.92 L328.50,73.87 L329.00,73.82 L329.50,73.76 L330.00,73.71 L330.50,73.66 L331.00,73.61 L331.50,73.56 L332.00,73.51 L332.50,73.46 L333.00,73.41 L333.50,73.36 L334.00,73.31 L334.50,73.26 L335.00,73.21 L335.50,73.16 L336.00,73.11 L336.50,73.06 L337.00,73.01 L337.50,72.96 L338.00,72.91 L338.50,72.87 L339.00,72.82 L339.50,72.77 L340.00,72.72 L340.50,72.67 L341.00,72.62 L341.50,72.58 L342.00,72.53 L342.50,72.48 L343.00,72.43 L343.50,72.39 L344.00,72.34 L344.50,72.29 L345.00,72.24 L345.50,72.20 L346.00,72.15 L346.50,72.10 L347.00,72.06 L347.50,72.01 L348.00,71.97 L348.50,71.92 L349.00,71.87 L349.50,71.83 L350.00,71.78 L350.50,71.74 L351.00,71.69 L351.50,71.64 L352.00,71.60 L352.50,71.55 L353.00,71.51 L353.50,71.46 L354.00,71.42 L354.50,71.37 L355.00,71.33 L355.50,71.28 L356.00,71.24 L356.50,71.20 L357.00,71.15 L357.50,71.11 L358.00,71.06 L358.50,71.02 L359.00,70.98 L359.50,70.93 L360.00,70.89 L360.50,70.85 L361.00,70.80 L361.50,70.76 L362.00,70.72 L362.50,70.67 L363.00,70.63 L363.50,70.59 L364.00,70.54 L364.50,70.50 L365.00,70.46 L365.50,70.42 L366.00,70.37 L366.50,70.33 L367.00,70.29 L367.50,70.25 L368.00,70.21 L368.50,70.16 L369.00,70.12 L369.50,70.08 L370.00,70.04 L370.50,70.00 L371.00,69.96 L371.50,69.92 L372.00,69.87 L372.50,69.83 L373.00,69.79 L373.50,69.75 L374.00,69.71 L374.50,69.67 L375.00,69.63 L375.50,69.59 L376.00,69.55 L376.50,69.51 L377.00,69.47 L377.50,69.43 L378.00,69.39 L378.50,69.35 L379.00,69.31 L379.50,69.27 L380.00,69.23 L380.50,69.19 L381.00,69.15 L381.50,69.11 L382.00,69.07 L382.50,69.03 L383.00,68.99 L383.50,68.95 L384.00,68.91 L384.50,68.87 L385.00,68.84 L385.50,68.80 L386.00,68.76 L386.50,68.72 L387.00,68.68 L387.50,68.64 L388.00,68.60 L388.50,68.57 L389.00,68.53 L389.50,68.49 L390.00,68.45 L390.50,68.41 L391.00,68.38 L391.50,68.34 L392.00,68.30 L392.50,68.26 L393.00,68.22 L393.50,68.19 L394.00,68.15 L394.50,68.11 L395.00,68.08 L395.50,68.04 L396.00,68.00 L396.50,67.96 L397.00,67.93 L397.50,67.89 L398.00,67.85 L398.50,67.82 L399.00,67.78 L399.50,67.74 L400.00,67.71 L400.50,67.67 L401.00,67.63 L401.50,67.60 L402.00,67.56 L402.50,67.52 L403.00,67.49 L403.50,67.45 L404.00,67.42 L404.50,67.38 L405.00,67.34 L405.50,67.31 L406.00,67.27 L406.50,67.24 L407.00,67.20 L407.50,67.16 L408.00,67.13 L408.50,67.09 L409.00,67.06" stroke="#ff0000" stroke-width="2.3" fill="none" stroke-dasharray="3.4 2.777" stroke-linejoin="round"/>
<text x="112.5" y="55" text-anchor="middle" font-weight="bold" font-size="11.5">5</text>
<text x="211.6" y="55" text-anchor="middle" font-weight="bold" font-size="11.5">10</text>
<text x="310.8" y="55" text-anchor="middle" font-weight="bold" font-size="11.5">15</text>
<text x="410.0" y="55" text-anchor="middle" font-weight="bold" font-size="11.5">20</text>
<text transform="translate(427.6,43.35) scale(0.94,1)" font-weight="bold" font-size="11.6">p/T</text>
<text transform="translate(0.34,97.75) scale(0.92,1)" font-size="15" stroke="#000" stroke-width="0.25">&#8722;</text>
<text x="29.3" y="97.75" text-anchor="end" font-size="15" stroke="#000" stroke-width="0.25">0.1</text>
<text transform="translate(0.34,150.25) scale(0.92,1)" font-size="15" stroke="#000" stroke-width="0.25">&#8722;</text>
<text x="29.3" y="150.25" text-anchor="end" font-size="15" stroke="#000" stroke-width="0.25">0.2</text>
<text transform="translate(0.34,202.75) scale(0.92,1)" font-size="15" stroke="#000" stroke-width="0.25">&#8722;</text>
<text x="29.3" y="202.75" text-anchor="end" font-size="15" stroke="#000" stroke-width="0.25">0.3</text>
<text transform="translate(0.34,255.25) scale(0.92,1)" font-size="15" stroke="#000" stroke-width="0.25">&#8722;</text>
<text x="29.3" y="255.25" text-anchor="end" font-size="15" stroke="#000" stroke-width="0.25">0.4</text>
<line x1="463.7" y1="95.3" x2="488.3" y2="95.3" stroke="#0000ff" stroke-width="2.2"/>
<line x1="463.2" y1="135.95" x2="509.9" y2="135.95" stroke="#00ff00" stroke-width="2.1" stroke-dasharray="6.7 3.3"/>
<line x1="463.2" y1="176.7" x2="509.9" y2="176.7" stroke="#ff0000" stroke-width="1.9" stroke-dasharray="3.4 2.8"/>
<text transform="translate(497.65,99.70)" font-size="16" font-style="italic">B</text>
<text transform="translate(507.24,102.25) scale(0.94,1)" font-size="12.3" font-style="normal">&#931;</text>
<text transform="translate(515.35,99.70) scale(0.82,1)" font-size="16" font-style="italic">/</text>
<text transform="translate(520.00,99.70)" font-size="16" font-style="italic">B</text>
<text transform="translate(530.00,102.65) scale(0.98,1) skewX(-4)" font-size="13.200000000000001" font-style="normal">&#8706;</text>
<text transform="translate(521.90,140.20)" font-size="16" font-style="italic">B</text>
<text transform="translate(532.13,142.80) scale(0.93,1)" font-size="11.8" font-style="italic">U</text>
<text transform="translate(541.05,140.20) scale(0.82,1)" font-size="16" font-style="italic">/</text>
<text transform="translate(545.90,140.20)" font-size="16" font-style="italic">B</text>
<text transform="translate(556.00,143.15) scale(0.98,1) skewX(-4)" font-size="13.200000000000001" font-style="normal">&#8706;</text>
<text transform="translate(521.90,180.50)" font-size="16" font-style="italic">B</text>
<text transform="translate(531.49,183.50) scale(0.94,1)" font-size="12.3" font-style="normal">&#931;</text>
<text transform="translate(538.92,180.90)" font-size="16" font-style="normal">+</text>
<text transform="translate(548.80,180.50)" font-size="16" font-style="italic">B</text>
<text transform="translate(559.28,183.10) scale(0.93,1)" font-size="11.8" font-style="italic">U</text>
<text transform="translate(567.95,180.50) scale(0.82,1)" font-size="16" font-style="italic">/</text>
<text transform="translate(573.00,180.50)" font-size="16" font-style="italic">B</text>
<text transform="translate(583.00,183.45) scale(0.98,1) skewX(-4)" font-size="13.200000000000001" font-style="normal">&#8706;</text>
</svg>
</body></html>
